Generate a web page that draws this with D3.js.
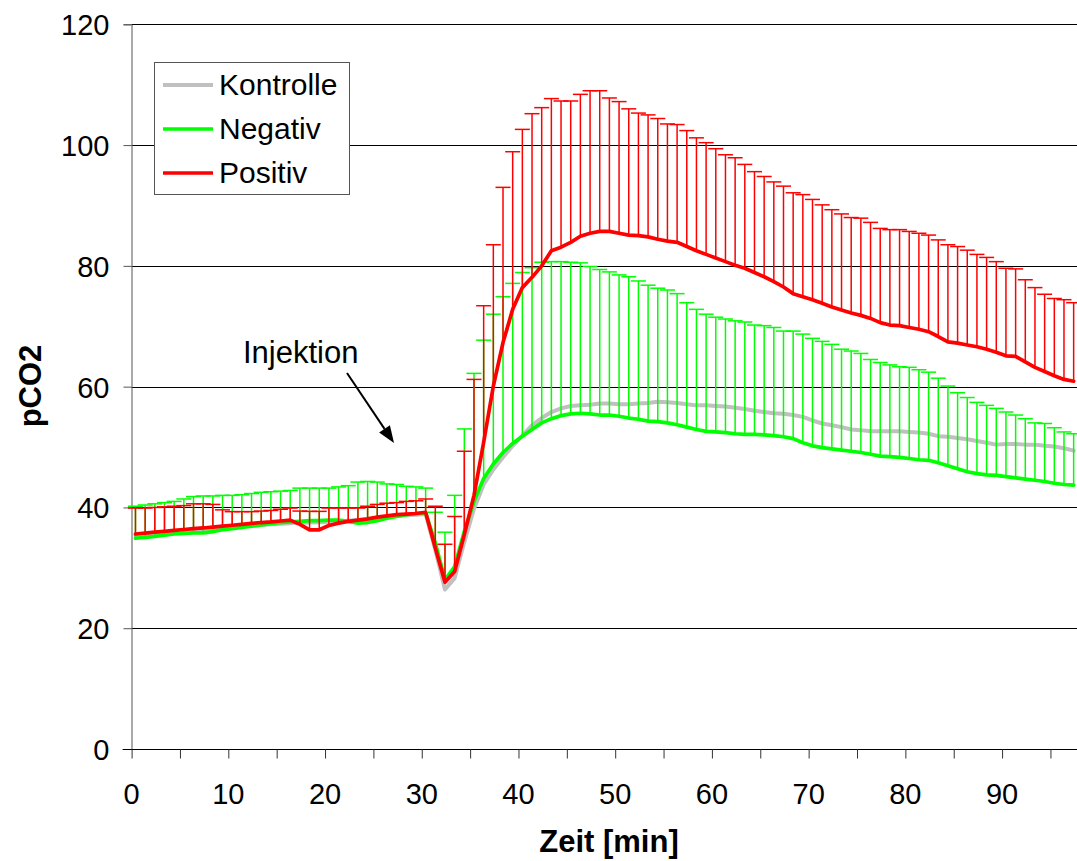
<!DOCTYPE html>
<html>
<head>
<meta charset="utf-8">
<script src="https://cdn.jsdelivr.net/npm/d3@7"></script>
<style>
  html, body { margin: 0; padding: 0; background: #fff; }
  svg { display: block; font-family: "Liberation Sans", Arial, sans-serif; }
</style>
</head>
<body>
<svg id="chart" width="1077" height="861"></svg>
<script>
// pCO2 time course, one sample per minute (sampling grid offset 0.4 min)
const minutes = d3.range(0.4, 98, 1);

const kontrolle = [
  35.3, 35.45, 35.6, 35.75, 35.9, 36.05, 36.2, 36.3, 36.45, 36.6, 36.75, 36.9, 37.0, 37.1, 37.2, 37.3, 37.4,
  37.45, 37.5, 37.55, 37.6, 37.7, 37.8, 37.9, 38.0, 38.2, 38.4, 38.6, 38.7, 38.8, 38.9,
  33.0, 26.4, 28.3, 34.3, 39.8, 43.8, 46.3, 48.3, 50.2, 51.9, 53.6, 54.8, 55.8, 56.4, 56.8, 56.9, 57.0, 57.2, 57.2,
  57.1, 57.1, 57.2, 57.3, 57.5, 57.4, 57.3, 57.1, 56.9, 56.9, 56.8, 56.7, 56.5, 56.3, 56.0, 55.8, 55.6, 55.5, 55.3, 55.0,
  54.4, 53.9, 53.6, 53.3, 52.9, 52.8, 52.6, 52.6, 52.6, 52.6, 52.5, 52.4, 52.2, 51.8, 51.7, 51.5, 51.3, 51.0, 50.7, 50.4,
  50.5, 50.5, 50.4, 50.4, 50.2, 50.1, 49.8, 49.4
];

const negativ = [
  34.9, 35.05, 35.2, 35.4, 35.6, 35.7, 35.8, 35.8, 36.0, 36.3, 36.5, 36.7, 36.9, 37.1, 37.3, 37.5, 37.6,
  37.7, 37.8, 37.8, 37.9, 37.9, 37.7, 37.4, 37.5, 37.8, 38.2, 38.5, 38.8, 39.0, 39.1,
  34.1, 28.0, 30.2, 36.0, 41.0, 44.8, 47.2, 49.1, 50.6, 51.8, 52.9, 54.0, 54.7, 55.2, 55.5, 55.6, 55.5, 55.3, 55.3,
  55.1, 54.8, 54.6, 54.3, 54.2, 54.0, 53.7, 53.3, 52.9, 52.6, 52.5, 52.4, 52.2, 52.1, 52.1, 52.0, 51.9, 51.7, 51.4, 50.7,
  50.2, 49.9, 49.7, 49.5, 49.3, 49.1, 48.8, 48.5, 48.4, 48.3, 48.1, 47.9, 47.8, 47.4, 46.9, 46.4, 45.9, 45.6, 45.4, 45.3,
  45.1, 44.9, 44.7, 44.5, 44.3, 44.0, 43.8, 43.7
];

// upper end of the Negativ error bars (mean + SD)
const negativUpper = [
  40.2, 40.4, 40.6, 40.8, 41.0, 41.4, 41.8, 41.9, 41.9, 42.0, 42.0, 42.1, 42.3, 42.5, 42.6, 42.7, 42.8,
  43.2, 43.2, 43.2, 43.2, 43.4, 43.6, 44.2, 44.3, 44.2, 43.9, 43.8, 43.5, 43.4, 43.2,
  39.2, 35.9, 42.0, 53.0, 62.2, 67.7, 72.0, 74.9, 77.1, 78.9, 79.7, 80.6, 80.7, 80.7, 80.6, 80.5, 79.9, 79.4, 79.0,
  78.5, 78.2, 77.5, 76.8, 76.3, 76.0, 75.4, 73.9, 72.8, 72.0, 71.5, 71.2, 70.9, 70.7, 70.2, 70.1, 69.8, 69.2, 69.2, 68.7,
  68.0, 67.5, 67.0, 66.2, 65.9, 65.5, 64.5, 64.0, 63.6, 63.3, 63.2, 62.8, 62.4, 61.4, 60.1, 59.0, 58.2, 57.4, 56.9, 56.4,
  55.8, 55.3, 54.7, 54.0, 53.9, 53.2, 52.5, 52.2
];

const positiv = [
  35.6, 35.75, 35.9, 36.05, 36.2, 36.35, 36.5, 36.6, 36.75, 36.9, 37.05, 37.2, 37.35, 37.5, 37.6, 37.75, 37.9,
  37.2, 36.3, 36.3, 37.0, 37.4, 37.7, 37.9, 38.1, 38.4, 38.6, 38.8, 38.9, 39.0, 39.2,
  33.3, 27.6, 29.4, 35.5, 42.0, 50.8, 60.1, 67.3, 72.8, 76.4, 78.1, 80.0, 82.5, 83.1, 83.9, 84.9, 85.4, 85.7, 85.7,
  85.4, 85.1, 85.0, 84.8, 84.4, 84.1, 83.9, 83.2, 82.5, 81.9, 81.3, 80.7, 80.1, 79.6, 78.9, 78.2, 77.4, 76.5, 75.4, 74.9,
  74.4, 73.8, 73.2, 72.7, 72.2, 71.8, 71.3, 70.6, 70.2, 70.1, 69.8, 69.5, 69.1, 68.3, 67.4, 67.2, 66.9, 66.6, 66.2, 65.7,
  65.1, 65.0, 64.1, 63.2, 62.5, 61.8, 61.2, 60.9
];

// upper end of the Positiv error bars (mean + SD)
const positivUpper = [
  39.9, 39.9, 40.0, 40.1, 40.2, 40.3, 40.6, 40.6, 40.5, 39.6, 39.3, 39.3, 39.3, 39.4, 39.5, 39.7, 39.9,
  39.4, 39.35, 39.35, 39.9, 39.9, 39.9, 39.9, 40.2, 40.5, 40.7, 40.8, 41.0, 41.1, 41.4,
  40.2, 33.9, 38.5, 49.3, 61.2, 73.4, 83.5, 93.0, 98.9, 102.6, 105.2, 106.2, 107.7, 107.3, 107.3, 108.4, 109.0, 109.0, 107.8,
  107.2, 106.0, 105.3, 105.0, 104.4, 103.5, 103.4, 102.4, 101.2, 100.4, 99.4, 98.4, 97.9, 96.8, 95.6, 94.8, 93.9, 93.2, 92.1, 91.8,
  91.0, 90.1, 89.3, 88.6, 88.0, 87.9, 87.2, 86.2, 86.0, 86.0, 85.7, 85.4, 85.1, 84.3, 83.5, 83.2, 82.6, 81.9, 81.4, 80.7,
  79.6, 79.5, 77.7, 76.4, 75.3, 74.6, 74.4, 73.9
];

const seriesNames = ["Kontrolle", "Negativ", "Positiv"];
const seriesColors = ["#c0c0c0", "#00ff00", "#ff0000"];
const yTicks = [0, 20, 40, 60, 80, 100, 120];
const xLabelTicks = [0, 10, 20, 30, 40, 50, 60, 70, 80, 90];
const xMinorTicks = d3.range(0, 96, 5);
const injectionLabel = "Injektion";

const svg = d3.select("#chart");

const x = d3.scaleLinear().domain([0, 98]).range([131.6, 131.6 + 98 * 9.672]);
const y = d3.scaleLinear().domain([0, 120]).range([749, 24.3]);

// horizontal gridlines
svg.append("g")
  .selectAll("line")
  .data(yTicks.filter(d => d > 0))
  .join("line")
  .attr("x1", x(0)).attr("x2", 1077)
  .attr("y1", d => Math.round(y(d)) + 0.5).attr("y2", d => Math.round(y(d)) + 0.5)
  .attr("stroke", "#000").attr("stroke-width", 1);

// y axis
const yAxis = d3.axisLeft(y).tickValues(yTicks).tickSize(8).tickPadding(14).tickFormat(d3.format("d"));
const gy = svg.append("g").attr("transform", `translate(${Math.round(x(0)) - 0.5},0)`).call(yAxis);
gy.select(".domain").attr("stroke", "#555");
gy.selectAll(".tick line").attr("stroke", "#555");
gy.selectAll(".tick text").attr("font-size", 29).attr("fill", "#000")
  .attr("font-family", "'Liberation Sans', Arial, sans-serif").attr("dy", "0.36em");

// x axis: minor marks every 5 min, labels every 10 min
const xAxis = d3.axisBottom(x).tickValues(xMinorTicks).tickSize(9).tickFormat(() => "");
const gx = svg.append("g").attr("transform", `translate(0,${Math.round(y(0)) + 0.5})`).call(xAxis);
gx.select(".domain").attr("stroke", "#000").attr("d", `M${x(0) - 9},0H1077`);
gx.selectAll(".tick line").attr("stroke", "#333");

svg.append("g")
  .selectAll("text")
  .data(xLabelTicks)
  .join("text")
  .attr("x", d => x(d))
  .attr("y", 804)
  .attr("text-anchor", "middle")
  .attr("font-size", 29)
  .text(d => d);

// axis titles
svg.append("text")
  .attr("transform", `translate(41,386) rotate(-90)`)
  .attr("text-anchor", "middle")
  .attr("font-size", 31).attr("font-weight", "bold")
  .text("pCO2");

svg.append("text")
  .attr("x", 609).attr("y", 852)
  .attr("text-anchor", "middle")
  .attr("font-size", 31).attr("font-weight", "bold")
  .text("Zeit [min]");

const line = d3.line().x((d, i) => x(minutes[i])).y(d => y(d));

function drawErrorBars(means, uppers, color) {
  const g = svg.append("g").attr("stroke", color).attr("stroke-width", 1.5);
  g.selectAll("line.stem")
    .data(means)
    .join("line")
    .attr("class", "stem")
    .attr("x1", (d, i) => x(minutes[i])).attr("x2", (d, i) => x(minutes[i]))
    .attr("y1", d => y(d)).attr("y2", (d, i) => y(uppers[i]));
  g.selectAll("line.cap")
    .data(uppers)
    .join("line")
    .attr("class", "cap")
    .attr("x1", (d, i) => x(minutes[i]) - 7.5).attr("x2", (d, i) => x(minutes[i]) + 7.5)
    .attr("y1", d => y(d)).attr("y2", d => y(d));
}

function drawLine(values, color, width) {
  svg.append("path")
    .datum(values)
    .attr("fill", "none")
    .attr("stroke", color)
    .attr("stroke-width", width)
    .attr("stroke-linejoin", "round")
    .attr("stroke-linecap", "round")
    .attr("d", line);
}

drawLine(kontrolle, seriesColors[0], 4);
drawErrorBars(negativ, negativUpper, seriesColors[1]);
drawLine(negativ, seriesColors[1], 3.7);
drawErrorBars(positiv, positivUpper, seriesColors[2]);
drawLine(positiv, seriesColors[2], 3.7);

// injection annotation
svg.append("text")
  .attr("x", 243).attr("y", 363)
  .attr("font-size", 31)
  .text(injectionLabel);

const ax0 = 347, ay0 = 373, ax1 = 394, ay1 = 443;
const ang = Math.atan2(ay1 - ay0, ax1 - ax0);
const headLen = 17, headHalf = 6.5;
const bx = ax1 - headLen * Math.cos(ang), by = ay1 - headLen * Math.sin(ang);
svg.append("line")
  .attr("x1", ax0).attr("y1", ay0).attr("x2", bx).attr("y2", by)
  .attr("stroke", "#000").attr("stroke-width", 2);
svg.append("path")
  .attr("d", `M${ax1},${ay1}L${bx + headHalf * Math.sin(ang)},${by - headHalf * Math.cos(ang)}L${bx - headHalf * Math.sin(ang)},${by + headHalf * Math.cos(ang)}Z`)
  .attr("fill", "#000");

// legend
const legend = svg.append("g");
legend.append("rect")
  .attr("x", 154.5).attr("y", 62.5).attr("width", 195).attr("height", 132)
  .attr("fill", "#fff").attr("stroke", "#555").attr("stroke-width", 1);
const rows = legend.selectAll("g.row")
  .data(seriesNames)
  .join("g")
  .attr("class", "row")
  .attr("transform", (d, i) => `translate(0,${85 + i * 44})`);
rows.append("line")
  .attr("x1", 163).attr("x2", 213).attr("y1", 0).attr("y2", 0)
  .attr("stroke", (d, i) => seriesColors[i])
  .attr("stroke-width", (d, i) => i === 0 ? 4 : 3.7);
rows.append("text")
  .attr("x", 219).attr("y", 10)
  .attr("font-size", 30)
  .text(d => d);
</script>
</body>
</html>
